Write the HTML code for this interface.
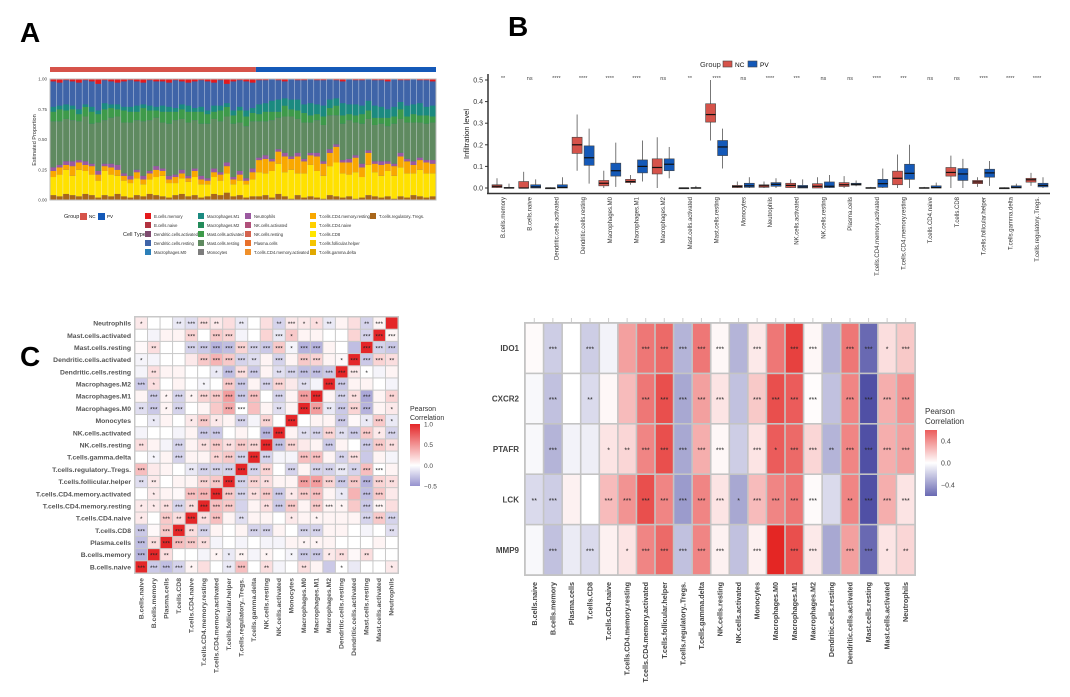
<!DOCTYPE html>
<html><head><meta charset="utf-8">
<style>
html,body{margin:0;padding:0;background:#fff;}
svg{display:block;font-family:"Liberation Sans",sans-serif;}
</style></head>
<body>
<svg id="fig" width="1070" height="697" viewBox="0 0 1070 697" xmlns="http://www.w3.org/2000/svg">
<text x="20" y="42" font-size="28" font-weight="bold">A</text>
<text x="508" y="36" font-size="28" font-weight="bold">B</text>
<text x="20" y="366" font-size="28" font-weight="bold">C</text>
<text x="536" y="356" font-size="28" font-weight="bold">D</text>
<g id="pa"></g>
<g id="pb"></g>
<g id="pc"></g>
<g id="pd"></g>
</svg>
<script>
const NS="http://www.w3.org/2000/svg";
function mk(p,t,a,txt){const e=document.createElementNS(NS,t);for(const k in a)e.setAttribute(k,a[k]);if(txt!==undefined)e.textContent=txt;p.appendChild(e);return e;}

// ---------- Panel A data ----------
const aTregs=[.04,.03,.05,.04,.03,.05,.04,.02,.04,.03,.05,.03,.02,.04,.03,.05,.04,.03,.02,.04,.05,.03,.04,.02,.03,.05,.04,.06,.03,.04,.02,.03,.03,.04,.02,.05,.03,.01,.04,.02,.03,.02,.01,.04,.03,.02,.03,.01,.02,.04,.03,.02,.03,.01,.03,.02,.04,.03,.02,.03];
const aYellow=[.15,.18,.2,.16,.22,.19,.17,.14,.2,.18,.15,.13,.12,.14,.1,.12,.15,.17,.12,.1,.13,.12,.15,.11,.1,.14,.12,.16,.1,.12,.11,.14,.2,.18,.22,.25,.2,.24,.18,.2,.26,.22,.19,.24,.28,.2,.18,.22,.17,.25,.2,.18,.21,.19,.24,.2,.18,.22,.2,.19];
const aOrange=[.05,.06,.04,.08,.06,.05,.07,.05,.04,.06,.05,.04,.03,.05,.04,.05,.06,.04,.03,.05,.04,.03,.05,.04,.03,.04,.05,.06,.04,.05,.03,.06,.1,.12,.08,.1,.13,.09,.14,.1,.08,.12,.1,.11,.13,.09,.1,.12,.08,.1,.07,.09,.06,.08,.09,.1,.07,.08,.09,.08];
const aPurple=[.03,.02,.03,.04,.02,.03,.02,.03,.02,.03,.04,.02,.03,.02,.03,.02,.03,.02,.03,.02,.03,.02,.02,.03,.02,.03,.02,.03,.02,.03,.02,.03,.02,.03,.02,.02,.03,.02,.03,.02,.02,.03,.02,.03,.02,.02,.03,.02,.03,.02,.02,.03,.02,.02,.03,.02,.03,.02,.02,.03];
const aMastR=[.38,.36,.35,.34,.32,.37,.33,.4,.36,.38,.4,.42,.44,.41,.45,.42,.4,.38,.43,.45,.42,.44,.4,.43,.45,.41,.42,.38,.44,.4,.43,.39,.3,.28,.32,.26,.3,.33,.28,.3,.25,.27,.3,.28,.24,.3,.32,.27,.33,.26,.3,.31,.29,.33,.28,.3,.32,.29,.3,.31];
const aMastA=[.08,.1,.07,.09,.06,.08,.1,.07,.09,.08,.06,.1,.09,.07,.11,.08,.06,.09,.1,.07,.08,.09,.07,.1,.08,.06,.09,.08,.07,.1,.08,.07,.06,.08,.07,.05,.09,.06,.07,.08,.06,.05,.07,.06,.08,.07,.05,.06,.08,.07,.06,.05,.07,.06,.08,.05,.07,.06,.07,.05];
const aTeal=[.04,.03,.05,.03,.04,.02,.04,.03,.05,.03,.04,.03,.04,.05,.03,.04,.03,.05,.04,.03,.04,.05,.03,.04,.03,.05,.04,.03,.04,.03,.05,.04,.08,.07,.09,.1,.06,.08,.09,.07,.1,.08,.09,.07,.06,.1,.08,.09,.07,.08,.1,.09,.07,.08,.06,.09,.08,.1,.07,.09];
const aRed=[.02,.03,.01,.02,.03,.01,.02,.04,.01,.02,.03,.02,.01,.02,.03,.01,.02,.02,.03,.01,.02,.03,.02,.01,.02,.03,.01,.04,.02,.01,.02,.03,.01,.01,.0,.01,.02,.0,.01,.01,.0,.01,.01,.0,.01,.02,.0,.01,.01,.0,.01,.01,.02,.0,.01,.01,.0,.01,.01,.02];
const aGroupN=32;
const aTicks=[0,0.25,0.5,0.75,1];
const aTickLabels=["0.00","0.25","0.50","0.75","1.00"];
const aLegendCols=[["B.cells.memory","B.cells.naive","Dendritic.cells.activated","Dendritic.cells.resting","Macrophages.M0"],["Macrophages.M1","Macrophages.M2","Mast.cells.activated","Mast.cells.resting","Monocytes"],["Neutrophils","NK.cells.activated","NK.cells.resting","Plasma.cells","T.cells.CD4.memory.activated"],["T.cells.CD4.memory.resting","T.cells.CD4.naive","T.cells.CD8","T.cells.follicular.helper","T.cells.gamma.delta"],["T.cells.regulatory..Tregs."]];
const aLegendColors=[["#e41a1c","#b2323f","#7d4a6e","#3f64a8","#2c7fb8"],["#1b8a80","#238b5a","#3e9a4a","#5f8a60","#7d7d7d"],["#9b59a0","#b0507a","#d4634e","#e8702a","#f0902a"],["#f9a800","#ffd000","#ffe600","#f5c400","#e0a800"],["#a8661a"]];

(function(){
 const g=document.getElementById('pa');
 const x0=50,x1=436,y0=79,y1=200,n=aTregs.length;
 const ys=v=>y1-v*(y1-y0);
 const bw=(x1-x0)/n;
 const gb=mk(g,'rect',{x:x0,y:67,width:(x1-x0)*aGroupN/n,height:5,fill:'#d6534a'});
 
 const gb2=mk(g,'rect',{x:x0+(x1-x0)*aGroupN/n,y:67,width:(x1-x0)*(n-aGroupN)/n,height:5,fill:'#1459b8'});
 
 mk(g,'rect',{x:x0,y:y0,width:x1-x0,height:y1-y0,fill:'#3f64a8'});
 const layers=[[aTregs,'#a8661a'],[aYellow,'#ffe100'],[aOrange,'#f9a800'],[aPurple,'#9b59a0'],[aMastR,'#5f8a60'],[aMastA,'#3e9a4a'],[aTeal,'#1b8a80']];
 for(let i=0;i<n;i++){
  let acc=0;const bx=x0+i*bw;
  for(const [arr,c] of layers){
   const h=arr[i];
   const r=mk(g,'rect',{x:bx,y:ys(acc+h),width:bw,height:ys(acc)-ys(acc+h),fill:c});
   
   acc+=h;
  }
  const r2=mk(g,'rect',{x:bx,y:ys(1),width:bw,height:ys(1-aRed[i])-ys(1),fill:'#e41a1c'});
  
  mk(g,'line',{x1:bx,x2:bx,y1:y0,y2:y1,stroke:'#fff','stroke-width':0.6,opacity:0.6});
 }
 mk(g,'rect',{x:x0,y:y0,width:x1-x0,height:y1-y0,fill:'none',stroke:'#bbb','stroke-width':1});
 aTicks.forEach((t,i)=>{mk(g,'text',{x:47,y:ys(t)+1.5,'font-size':4.5,'text-anchor':'end',fill:'#444'},aTickLabels[i]);});
 const yt=mk(g,'text',{x:36,y:140,'font-size':5.5,'text-anchor':'middle',fill:'#333',transform:'rotate(-90 36 140)'},'Estimated Proportion');
 
 mk(g,'text',{x:64,y:218,'font-size':5.5,fill:'#222'},'Group');
 mk(g,'rect',{x:80,y:213,width:7,height:7,fill:'#d6534a'});mk(g,'text',{x:89,y:218,'font-size':4.5},'NC');
 mk(g,'rect',{x:98,y:213,width:7,height:7,fill:'#1459b8'});mk(g,'text',{x:107,y:218,'font-size':4.5},'PV');
 mk(g,'text',{x:123,y:236,'font-size':5.5,fill:'#222'},'Cell Type');
 const cx=[145,198,245,310,370];
 aLegendCols.forEach((col,ci)=>col.forEach((lab,ri)=>{
  const y=213+ri*9;
  const le=mk(g,'rect',{x:cx[ci],y:y,width:6,height:6,fill:aLegendColors[ci][ri]});
  
  mk(g,'text',{x:cx[ci]+9,y:y+5,'font-size':4.2,fill:'#333'},lab);
 }));
})();

// ---------- Panel B data ----------
const bCats=["B.cells.memory","B.cells.naive","Dendritic.cells.activated","Dendritic.cells.resting","Macrophages.M0","Macrophages.M1","Macrophages.M2","Mast.cells.activated","Mast.cells.resting","Monocytes","Neutrophils","NK.cells.activated","NK.cells.resting","Plasma.cells","T.cells.CD4.memory.activated","T.cells.CD4.memory.resting","T.cells.CD4.naive","T.cells.CD8","T.cells.follicular.helper","T.cells.gamma.delta","T.cells.regulatory..Tregs."];
const bNC=[[0,0.002,0.008,0.015,0.045],[0,0,0,0.03,0.075],[0,0,0,0,0.003],[0.08,0.16,0.2,0.235,0.34],[0,0.01,0.022,0.035,0.08],[0.015,0.025,0.03,0.04,0.06],[0,0.065,0.095,0.135,0.235],[0,0,0,0,0.002],[0.22,0.305,0.34,0.39,0.5],[0,0.002,0.007,0.012,0.03],[0,0.003,0.01,0.015,0.03],[0,0.002,0.012,0.022,0.04],[0,0,0.008,0.02,0.05],[0,0.007,0.015,0.025,0.055],[0,0,0,0.002,0.005],[0,0.015,0.045,0.078,0.155],[0,0,0,0.002,0.005],[0,0.055,0.072,0.095,0.15],[0.005,0.02,0.028,0.035,0.05],[0,0,0,0,0.003],[0.01,0.027,0.038,0.045,0.07]];
const bPV=[[0,0,0,0.003,0.02],[0,0,0.005,0.015,0.04],[0,0,0.003,0.015,0.05],[0.02,0.105,0.14,0.195,0.275],[0.005,0.055,0.08,0.115,0.21],[0.03,0.07,0.1,0.13,0.22],[0.045,0.08,0.11,0.135,0.19],[0,0,0,0.002,0.01],[0.09,0.15,0.19,0.22,0.275],[0,0.003,0.01,0.022,0.05],[0,0.008,0.017,0.025,0.045],[0,0,0.005,0.012,0.04],[0,0.002,0.008,0.028,0.06],[0.008,0.013,0.017,0.022,0.035],[0,0.003,0.02,0.04,0.09],[0,0.04,0.068,0.11,0.2],[0,0,0.002,0.01,0.025],[0,0.035,0.065,0.09,0.135],[0.01,0.05,0.07,0.087,0.125],[0,0,0.003,0.01,0.02],[0,0.005,0.012,0.022,0.05]];
const bSig=["**","ns","****","****","****","****","ns","**","****","ns","****","***","ns","ns","****","***","ns","ns","****","****","****"];
const bTicks=[0,0.1,0.2,0.3,0.4,0.5];
const bTickLabels=["0.0","0.1","0.2","0.3","0.4","0.5"];

(function(){
 const g=document.getElementById('pb');
 const ys=v=>188-v*(188-80)/0.5;
 const xs=i=>503+i*(1037-503)/(bCats.length-1);
 mk(g,'line',{x1:488,x2:488,y1:74,y2:194,stroke:'#333','stroke-width':1.5});
 mk(g,'line',{x1:487,x2:1050,y1:193.5,y2:193.5,stroke:'#333','stroke-width':1.5});
 bTicks.forEach((t,i)=>{mk(g,'line',{x1:485,x2:488,y1:ys(t),y2:ys(t),stroke:'#333'});
  mk(g,'text',{x:483,y:ys(t)+2.5,'font-size':7,'text-anchor':'end',fill:'#333'},bTickLabels[i]);});
 const yt=mk(g,'text',{x:469,y:134,'font-size':7.5,'text-anchor':'middle',fill:'#222',transform:'rotate(-90 469 134)'},'Infiltration level');
 
 mk(g,'text',{x:700,y:67,'font-size':7.5,fill:'#333'},'Group');
 const l1=mk(g,'rect',{x:723,y:61,width:9,height:6,fill:'#d6534a',stroke:'#444','stroke-width':0.6});
 
 mk(g,'text',{x:735,y:67,'font-size':6.5},'NC');
 const l2=mk(g,'rect',{x:748,y:61,width:9,height:6,fill:'#1459b8',stroke:'#444','stroke-width':0.6});
 
 mk(g,'text',{x:760,y:67,'font-size':6.5},'PV');
 function box(cx,q,col,nm){
  const bg=mk(g,'g',{});
  
  mk(bg,'line',{x1:cx,x2:cx,y1:ys(q[0]),y2:ys(q[4]),stroke:'#555','stroke-width':0.8});
  mk(bg,'rect',{x:cx-5,y:ys(q[3]),width:10,height:Math.max(0.8,ys(q[1])-ys(q[3])),fill:col,stroke:'#444','stroke-width':0.6});
  mk(bg,'line',{x1:cx-5,x2:cx+5,y1:ys(q[2]),y2:ys(q[2]),stroke:'#111','stroke-width':1.2});
 }
 bCats.forEach((c,i)=>{
  const x=xs(i);
  box(x-6,bNC[i],'#d6534a','box-nc');
  box(x+6,bPV[i],'#1459b8','box-pv');
  mk(g,'text',{x:x,y:80,'font-size':5.5,'text-anchor':'middle',fill:'#444'},bSig[i]);
  const t=mk(g,'text',{x:x+2,y:197,'font-size':6,'text-anchor':'end',fill:'#333',transform:`rotate(-90 ${x+2} 197)`},c);
  
 });
})();

// ---------- Heatmap shared ----------
const hCols=["B.cells.naive","B.cells.memory","Plasma.cells","T.cells.CD8","T.cells.CD4.naive","T.cells.CD4.memory.resting","T.cells.CD4.memory.activated","T.cells.follicular.helper","T.cells.regulatory..Tregs.","T.cells.gamma.delta","NK.cells.resting","NK.cells.activated","Monocytes","Macrophages.M0","Macrophages.M1","Macrophages.M2","Dendritic.cells.resting","Dendritic.cells.activated","Mast.cells.resting","Mast.cells.activated","Neutrophils"];
function lerp(a,b,t){return a.map((v,i)=>Math.round(v+(b[i]-v)*t));}
function colC(v){const w=[255,255,255];if(v>=0){const t=Math.min(1,v);return 'rgb('+lerp(w,[228,38,40],t)+')';}const t=Math.min(1,-v/0.5);return 'rgb('+lerp(w,[150,146,206],t)+')';}
function colD(v){const w=[255,255,255];if(v>=0){const t=Math.min(1,v/0.8);return 'rgb('+lerp(w,[228,38,36],t)+')';}const t=Math.min(1,-v/0.7);return 'rgb('+lerp(w,[80,80,165],t)+')';}

// ---------- Panel C data ----------
const cRows=["Neutrophils","Mast.cells.activated","Mast.cells.resting","Dendritic.cells.activated","Dendritic.cells.resting","Macrophages.M2","Macrophages.M1","Macrophages.M0","Monocytes","NK.cells.activated","NK.cells.resting","T.cells.gamma.delta","T.cells.regulatory..Tregs.","T.cells.follicular.helper","T.cells.CD4.memory.activated","T.cells.CD4.memory.resting","T.cells.CD4.naive","T.cells.CD8","Plasma.cells","B.cells.memory","B.cells.naive"];
const cVals=[
[0.1,0,0,-0.1,-0.15,0.15,0.1,0.15,-0.1,0,0.15,-0.2,0.1,0.1,0.15,-0.1,0.05,0.15,-0.2,0.05,1],
[0,-0.05,0.05,0.05,0.2,0,0.25,0.2,-0.05,0,0.2,-0.1,0.25,0.05,0.05,0,0,0.2,-0.2,1,0.05],
[0.03,0.15,0,0,-0.2,-0.25,-0.35,-0.3,0.2,-0.2,-0.25,0.25,-0.05,-0.35,-0.35,0.05,0,-0.3,1,-0.2,-0.25],
[-0.05,-0.05,0,0,0.1,0.25,0.35,0.25,-0.2,-0.15,0.05,-0.2,0.05,0.25,0.2,0.05,0.03,1,-0.25,0.2,0.15],
[-0.05,0.15,0.05,0.05,0,0,-0.1,-0.3,0.15,-0.25,0.05,-0.15,-0.2,-0.3,-0.3,-0.25,1,0.1,0,-0.05,0.05],
[-0.25,0.15,0,0.05,0,-0.05,0,0.25,-0.25,0.05,-0.2,0.2,0.1,-0.15,-0.05,1,-0.25,0.05,0.05,0,-0.05],
[0.05,-0.25,0.05,-0.2,0.05,0.2,0.25,0.45,-0.25,0.3,0,-0.2,0.05,0.45,1,0.05,-0.2,0.15,-0.4,0.05,0.2],
[-0.15,-0.25,0.05,-0.2,0,0.05,0.25,0.4,0,0.3,0.05,-0.15,0.05,1,0.45,-0.1,-0.25,0.2,-0.35,0.05,0.1],
[0,-0.1,0.05,0,0.1,0.25,0.1,0.05,-0.2,-0.05,0.2,0,1,0,0.05,0.05,-0.25,0.03,-0.1,0.25,-0.1],
[-0.05,0,0,-0.05,0.05,-0.25,-0.25,0,0.05,0,-0.35,1,0.05,-0.15,-0.2,0.2,-0.15,-0.25,0.25,0.1,-0.2],
[0.15,0.05,-0.05,-0.2,0.05,0.15,0.25,0.15,0.25,0.2,1,-0.3,0.2,0.1,0.05,-0.25,0.05,0,-0.25,0.25,0.15],
[0,-0.05,0.05,-0.2,0.05,0.05,0.2,0.25,-0.2,1,-0.2,-0.05,-0.05,0.3,0.3,0.05,-0.2,0.15,-0.25,0.05,-0.05],
[0.3,0.1,0.05,0,-0.1,-0.2,-0.2,-0.2,1,-0.2,0.2,0,-0.2,0.05,-0.2,-0.2,-0.1,-0.2,0.3,0,0.05],
[-0.15,0.1,0,0.05,0.05,0.2,0.25,1,-0.2,0.2,0.15,0.05,0.05,0.45,0.45,0.2,-0.25,0.25,-0.35,0.2,0.15],
[0,0.1,0.05,0.03,0.3,0.35,1,0.25,-0.2,0.15,0.25,-0.25,0.1,0.25,0.3,0.05,-0.1,0.35,-0.3,0.25,0.1],
[0.1,0.1,0.15,-0.2,0.15,1,0.3,0.25,-0.2,0.05,0.15,-0.25,0.25,0.05,0.25,0.05,0.05,0.25,-0.25,0.05,0.15],
[0.1,0,0.25,0.15,1,0.15,0.3,0.05,-0.15,0.05,0.05,0,0.1,0.05,0.05,0.05,0.05,0.05,-0.2,0.25,-0.2],
[-0.25,0.03,0.25,1,0.15,-0.2,0.05,0,0.05,-0.2,-0.2,0.05,0,-0.2,-0.2,0.05,0.05,0,-0.05,0,-0.15],
[-0.3,0.15,1,0.3,0.25,0.15,-0.05,0,-0.05,0,-0.05,-0.05,0.05,0.05,0.05,0.05,0,0,0,0.05,0],
[-0.35,1,0.15,0,0,-0.05,0.05,-0.1,0.05,-0.05,0.05,0,-0.05,-0.25,-0.25,0.1,0.15,0.03,0.15,0,0],
[1,-0.25,-0.3,-0.2,0.05,0.15,0,-0.1,0.3,0,0.15,-0.05,0,0.15,0.05,-0.25,0,-0.1,0,0,0.1]];
const cStars=["100233202002311200230","000030330003100000333","020033333333133000333","100003333203033013332","020000133302333333100","310001033033020330000","031313333303033032302","231300033002033233301","010013103030300030131","000003300033023323313","200302323333300300332","010300233330033023000","300023333330303332330","220003333320033333332","010033333233133010330","112323330023303310330","103232302000101000333","303323000330033000002","323332000000011000000","332000112010133120200","333310023020020010001"];
const cTicks=[1,0.5,0,-0.5];
const cTickLabels=["1.0","0.5","0.0","\u22120.5"];

(function(){
 const g=document.getElementById('pc');
 const x0=135,x1=398,y0=317,y1=573;
 const cw=(x1-x0)/hCols.length,ch=(y1-y0)/cRows.length;
 mk(g,'rect',{x:x0-1,y:y0-1,width:x1-x0+2,height:y1-y0+2,fill:'#c8c8c8'});
 cRows.forEach((r,ri)=>{
  const t=mk(g,'text',{x:131,y:y0+ri*ch+ch/2+2.5,'font-size':6.8,'font-weight':'bold','text-anchor':'end',fill:'#555'},r);
  
  hCols.forEach((c,ci)=>{
   const v=cVals[ri][ci];
   const cell=mk(g,'rect',{x:x0+ci*cw+0.5,y:y0+ri*ch+0.5,width:cw-1,height:ch-1,fill:colC(v)});
   
   const s=+cStars[ri][ci];
   if(s>0)mk(g,'text',{x:x0+ci*cw+cw/2,y:y0+ri*ch+ch/2+3,'font-size':6.5,'text-anchor':'middle',fill:'#222'},'*'.repeat(s));
  });
 });
 hCols.forEach((c,ci)=>{
  const x=x0+ci*cw+cw/2+2;
  const t=mk(g,'text',{x:x,y:578,'font-size':6.8,'font-weight':'bold','text-anchor':'end',fill:'#555',transform:`rotate(-90 ${x} 578)`},c);
  
 });
 mk(g,'text',{x:410,y:411,'font-size':7,fill:'#333'},'Pearson');
 mk(g,'text',{x:410,y:420,'font-size':7,fill:'#333'},'Correlation');
 const lg=mk(g,'defs',{});
 const grad=mk(lg,'linearGradient',{id:'gc',x1:0,y1:0,x2:0,y2:1});
 [[0,1],[0.333,0.5],[0.667,0],[1,-0.5]].forEach(([o,v])=>mk(grad,'stop',{offset:o,'stop-color':colC(v)}));
 const bar=mk(g,'rect',{x:410,y:424,width:10,height:62,fill:'url(#gc)'});
 
 const ly=v=>424+(1-v)/1.5*62;
 cTicks.forEach((t,i)=>mk(g,'text',{x:424,y:ly(t)+2.5,'font-size':6.5,fill:'#444'},cTickLabels[i]));
})();

// ---------- Panel D data ----------
const dRows=["IDO1","CXCR2","PTAFR","LCK","MMP9"];
const dVals=[
[0.02,-0.2,0,-0.2,-0.05,0.35,0.5,0.55,-0.3,0.5,0.03,-0.3,0.08,0.5,0.7,0.03,-0.3,0.5,-0.6,0.12,0.2],
[-0.03,-0.25,0,-0.15,0.03,0.25,0.5,0.65,-0.35,0.35,0.1,-0.25,0.2,0.65,0.6,0.01,-0.25,0.45,-0.75,0.3,0.4],
[-0.03,-0.3,-0.05,-0.07,0.1,0.15,0.45,0.65,-0.35,0.3,0.03,-0.2,0.1,0.6,0.55,0.15,-0.3,0.45,-0.7,0.3,0.35],
[-0.15,-0.2,0.05,0,0.25,0.4,0.65,0.45,-0.4,0.45,0.1,-0.35,0.25,0.45,0.5,0.02,-0.15,0.45,-0.75,0.3,0.1],
[-0.03,-0.25,-0.08,-0.15,0.05,0.1,0.45,0.55,-0.25,0.45,0.05,-0.25,0.05,0.85,0.65,0.08,-0.35,0.35,-0.6,0.1,0.15]];
const dStars=["030300333330303303313","030200333330333303333","030012333330313323333","230033333331333302333","030301333330303303312"];
const dTicks=[0.4,0,-0.4];
const dTickLabels=["0.4","0.0","\u22120.4"];

(function(){
 const g=document.getElementById('pd');
 const x0=525,x1=915,y0=323,y1=575;
 const cw=(x1-x0)/hCols.length,ch=(y1-y0)/dRows.length;
 mk(g,'rect',{x:x0-1,y:y0-1,width:x1-x0+2,height:y1-y0+2,fill:'#c4c4c4'});
 hCols.forEach((c,ci)=>mk(g,'line',{x1:x0+ci*cw+cw/2,x2:x0+ci*cw+cw/2,y1:y0-5,y2:y0-1,stroke:'#ccc'}));
 dRows.forEach((r,ri)=>{
  const t=mk(g,'text',{x:519,y:y0+ri*ch+ch/2+3,'font-size':8,'font-weight':'bold','text-anchor':'end',fill:'#444'},r);
  
  hCols.forEach((c,ci)=>{
   const v=dVals[ri][ci];
   const cell=mk(g,'rect',{x:x0+ci*cw+0.8,y:y0+ri*ch+0.8,width:cw-1.6,height:ch-1.6,fill:colD(v)});
   
   const s=+dStars[ri][ci];
   if(s>0)mk(g,'text',{x:x0+ci*cw+cw/2,y:y0+ri*ch+ch/2+3.5,'font-size':7,'text-anchor':'middle',fill:'#222'},'*'.repeat(s));
  });
 });
 hCols.forEach((c,ci)=>{
  const x=x0+ci*cw+cw/2+2.5;
  const t=mk(g,'text',{x:x,y:582,'font-size':7.2,'font-weight':'bold','text-anchor':'end',fill:'#444',transform:`rotate(-90 ${x} 582)`},c);
  
 });
 mk(g,'text',{x:925,y:414,'font-size':8,fill:'#333'},'Pearson');
 mk(g,'text',{x:925,y:424,'font-size':8,fill:'#333'},'Correlation');
 const lg=mk(g,'defs',{});
 const grad=mk(lg,'linearGradient',{id:'gd',x1:0,y1:0,x2:0,y2:1});
 [[0,0.6],[0.5,0],[1,-0.6]].forEach(([o,v])=>mk(grad,'stop',{offset:o,'stop-color':colD(v)}));
 const bar=mk(g,'rect',{x:925,y:430,width:12,height:66,fill:'url(#gd)'});
 
 const ly=v=>463-v/0.6*33;
 dTicks.forEach((t,i)=>mk(g,'text',{x:941,y:ly(t)+2.5,'font-size':7,fill:'#444'},dTickLabels[i]));
})();
</script>
</body></html>
